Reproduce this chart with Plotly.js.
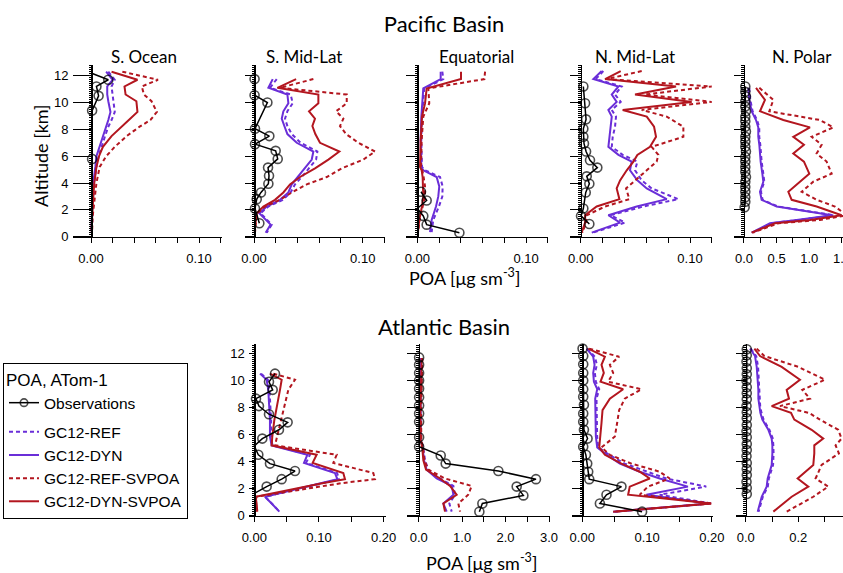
<!DOCTYPE html>
<html><head><meta charset="utf-8">
<script src="https://cdn.plot.ly/plotly-3.0.1.min.js"></script>
<style>html,body{margin:0;padding:0;background:#fff}#chart{width:843px;height:573px}</style>
</head><body><div id="chart"></div>
<script>
// ---------------- DATA (POA, ATom-1) ----------------
// Pacific - S. Ocean
const pSO_alt   = [12.3, 11.7, 11.2, 10.6, 10.1, 9.3, 8.7, 8.2, 7.5, 6.7, 6.0, 5.2, 4.0, 2.7, 1.5, 0.4];
const pSO_dyn   = [0.014, 0.020, 0.015, 0.015, 0.016, 0.018, 0.016, 0.014, 0.011, 0.008, 0.005, 0.004, 0.002, 0.0012, 0.0006, 0.0003];
const pSO_ref   = [0.016, 0.022, 0.019, 0.020, 0.021, 0.022, 0.019, 0.016, 0.013, 0.010, 0.007, 0.005, 0.003, 0.0019, 0.001, 0.0006];
const pSO_dynsv = [0.019, 0.043, 0.031, 0.032, 0.042, 0.043, 0.035, 0.028, 0.019, 0.011, 0.0074, 0.005, 0.003, 0.0019, 0.001, 0.0003];
const pSO_refsv = [0.029, 0.062, 0.047, 0.049, 0.056, 0.061, 0.055, 0.045, 0.033, 0.022, 0.014, 0.008, 0.005, 0.003, 0.0015, 0.001];
const pSO_obsAlt = [12.2, 11.7, 11.2, 10.5, 9.4, 5.8];
const pSO_obs    = [0.0, 0.016, 0.005, 0.007, 0.001, 0.001];

// Pacific - S. Mid-Lat
const pSM_alt   = [11.75, 11.1, 10.6, 9.95, 9.35, 8.8, 8.25, 7.65, 7.0, 6.35, 5.75, 5.1, 4.45, 3.9, 3.3, 2.75, 2.25, 1.75, 0.9, 0.3];
const pSM_dyn   = [0.0172, 0.0132, 0.0307, 0.0316, 0.027, 0.0255, 0.0279, 0.0307, 0.0393, 0.0546, 0.0531, 0.0469, 0.0408, 0.0347, 0.0316, 0.0239, 0.0117, 0.0049, 0.0153, 0.0107];
const pSM_ref   = [0.0209, 0.0147, 0.0337, 0.0356, 0.0307, 0.0285, 0.0307, 0.0347, 0.0429, 0.0583, 0.0571, 0.0509, 0.0439, 0.0377, 0.0337, 0.0264, 0.0132, 0.0061, 0.0163, 0.0117];
const pSM_dynsv = [0.0387, 0.0215, 0.0592, 0.0592, 0.0506, 0.0561, 0.0537, 0.0564, 0.0607, 0.0785, 0.0684, 0.0561, 0.0423, 0.0331, 0.027, 0.0193, 0.0086, 0.0025, 0.0012, 0.0006];
const pSM_refsv = [0.0546, 0.0239, 0.0853, 0.0853, 0.0755, 0.0822, 0.0791, 0.0847, 0.096, 0.1113, 0.1006, 0.0807, 0.0669, 0.0485, 0.0347, 0.0239, 0.0101, 0.0031, 0.0015, 0.0009];
const pSM_obsAlt = [11.75, 10.55, 10.0, 8.05, 7.5, 6.9, 6.4, 5.8, 5.15, 4.55, 3.95, 3.3, 2.8, 2.1, 1.0];
const pSM_obs    = [0.0005, 0.0005, 0.0123, 0.0009, 0.0141, 0.0009, 0.0199, 0.0218, 0.0129, 0.0138, 0.0132, 0.0064, 0.0025, 0.0009, 0.0049];

// Pacific - Equatorial
const pEQ_alt   = [12.3, 11.75, 11.05, 9.95, 8.95, 7.2, 5.2, 4.95, 4.45, 3.75, 3.0, 2.25, 1.25, 0.35];
const pEQ_dyn   = [0.0215, 0.0215, 0.0055, 0.0046, 0.0037, 0.0031, 0.0037, 0.0055, 0.0178, 0.0202, 0.0193, 0.0172, 0.0132, 0.0117];
const pEQ_ref   = [0.023, 0.0239, 0.0064, 0.0055, 0.0043, 0.0037, 0.0043, 0.0071, 0.0209, 0.0233, 0.023, 0.0199, 0.0147, 0.0132];
const pEQ_dynsv = [0.0402, 0.0402, 0.0086, 0.0071, 0.0043, 0.0031, 0.0025, 0.004, 0.0049, 0.0055, 0.0055, 0.0043, 0.0018, 0.0006];
const pEQ_refsv = [0.0623, 0.0617, 0.0101, 0.011, 0.0055, 0.004, 0.0034, 0.0046, 0.0058, 0.0071, 0.0071, 0.0049, 0.0021, 0.0009];
const pEQ_obsAlt = [3.35, 2.7, 2.1, 1.55, 0.9, 0.3];
const pEQ_obs    = [0.0034, 0.0086, 0.0, 0.0055, 0.0086, 0.0387];

// Pacific - N. Mid-Lat
const pNM_alt   = [12.35, 11.75, 11.2, 10.6, 10.05, 9.45, 8.95, 8.2, 7.45, 6.7, 6.1, 5.6, 4.95, 4.2, 3.6, 2.8, 2.25, 1.6, 1.05, 0.3];
const pNM_dyn   = [0.0192, 0.0116, 0.0345, 0.0284, 0.0329, 0.0253, 0.0284, 0.0274, 0.0262, 0.0253, 0.0345, 0.0466, 0.0451, 0.0518, 0.0604, 0.0787, 0.0512, 0.0253, 0.036, 0.0101];
const pNM_ref   = [0.0207, 0.0137, 0.0375, 0.0314, 0.0366, 0.0284, 0.0323, 0.0314, 0.0293, 0.0284, 0.0384, 0.0518, 0.0497, 0.0558, 0.0649, 0.0893, 0.0573, 0.0274, 0.0405, 0.011];
const pNM_dynsv = [0.0366, 0.0223, 0.0872, 0.0497, 0.1015, 0.0384, 0.0604, 0.0671, 0.0689, 0.0634, 0.0518, 0.0482, 0.0421, 0.036, 0.0329, 0.0354, 0.0146, 0.004, 0.004, 0.0009];
const pNM_refsv = [0.0558, 0.0238, 0.1198, 0.0588, 0.1198, 0.0558, 0.0787, 0.0939, 0.0939, 0.0649, 0.071, 0.0695, 0.0604, 0.0497, 0.0415, 0.0445, 0.0223, 0.0055, 0.0049, 0.0015];
const pNM_obsAlt = [11.2, 9.95, 8.75, 8.05, 7.45, 6.95, 6.35, 5.7, 5.15, 4.5, 3.95, 3.3, 2.1, 1.55, 0.95];
const pNM_obs    = [0.0024, 0.004, 0.0049, 0.0024, 0.0024, 0.003, 0.0049, 0.0085, 0.0152, 0.0055, 0.0079, 0.0046, 0.0024, 0.0003, 0.0079];

// Pacific - N. Polar
const pNP_alt   = [11.1, 10.2, 9.35, 8.7, 8.15, 7.45, 6.85, 6.2, 5.6, 4.7, 4.1, 3.35, 2.75, 2.25, 1.6, 1.25, 1.0, 0.3];
const pNP_dyn   = [0.066, 0.082, 0.117, 0.184, 0.219, 0.219, 0.235, 0.245, 0.255, 0.281, 0.296, 0.245, 0.27, 0.5, 1.35, 0.806, 0.398, 0.117];
const pNP_ref   = [0.08, 0.097, 0.132, 0.2, 0.234, 0.234, 0.25, 0.26, 0.27, 0.296, 0.311, 0.26, 0.285, 0.52, 1.38, 0.83, 0.42, 0.13];
const pNP_dynsv = [0.184, 0.321, 0.245, 0.602, 1.01, 0.755, 0.918, 0.755, 0.918, 1.0, 0.857, 0.679, 0.73, 1.112, 1.495, 1.01, 0.474, 0.117];
const pNP_refsv = [0.235, 0.449, 0.388, 1.163, 1.367, 1.036, 1.189, 1.112, 1.265, 1.342, 1.061, 0.883, 1.112, 1.393, 1.571, 1.163, 0.526, 0.133];
const pNP_obsAlt = [11.2, 10.8, 10.45, 10.1, 9.7, 9.35, 8.95, 8.6, 8.2, 7.85, 7.45, 7.1, 6.7, 6.35, 5.95, 5.6, 5.2, 4.85, 4.45, 4.1, 3.7, 3.35, 2.95, 2.6, 2.2];
const pNP_obs    = [0.02, 0.02, 0.03, 0.02, 0.02, 0.03, 0.02, 0.02, 0.02, 0.03, 0.02, 0.02, 0.02, 0.03, 0.02, 0.02, 0.02, 0.02, 0.03, 0.02, 0.02, 0.02, 0.02, 0.02, 0.01];

// Atlantic - S. Mid-Lat
const aSM_alt   = [10.5, 10.05, 9.3, 8.3, 7.05, 5.85, 5.2, 4.5, 3.9, 3.15, 2.7, 2.4, 1.4, 0.9, 0.3];
const aSM_dyn   = [0.0088, 0.0191, 0.0216, 0.0232, 0.0242, 0.0242, 0.0268, 0.082, 0.0768, 0.1247, 0.1284, 0.1026, 0.0165, 0.0268, 0.0387];
const aSM_ref   = [0.0105, 0.021, 0.0235, 0.025, 0.026, 0.026, 0.028, 0.086, 0.080, 0.128, 0.131, 0.105, 0.017, 0.027, 0.039];
const aSM_dynsv = [0.0242, 0.0423, 0.0397, 0.0356, 0.0309, 0.0278, 0.0268, 0.0964, 0.0902, 0.1376, 0.1402, 0.105, 0.002, 0.0036, 0.0046];
const aSM_refsv = [0.0294, 0.0629, 0.0526, 0.0474, 0.0407, 0.0356, 0.032, 0.1273, 0.1222, 0.184, 0.1866, 0.134, 0.003, 0.0026, 0.0036];
const aSM_obsAlt = [10.5, 9.9, 9.3, 8.65, 8.1, 7.5, 6.9, 6.35, 5.7, 5.15, 4.5, 3.85, 3.3, 2.7, 2.15, 1.65];
const aSM_obs    = [0.032, 0.0227, 0.0284, 0.0026, 0.0072, 0.0227, 0.0515, 0.0381, 0.0124, 0.0, 0.0062, 0.0242, 0.0629, 0.0423, 0.0191, 0.0];

// Atlantic - Equatorial
const aEQ_alt   = [11.65, 10.05, 7.55, 5.6, 5.0, 4.1, 3.4, 2.75, 2.2, 1.55, 0.9, 0.3];
const aEQ_dyn   = [0.046, 0.046, 0.031, 0.046, 0.092, 0.123, 0.184, 0.414, 0.76, 0.80, 0.568, 0.645];
const aEQ_ref   = [0.054, 0.054, 0.038, 0.054, 0.107, 0.146, 0.223, 0.491, 0.798, 0.837, 0.706, 0.76];
const aEQ_dynsv = [0.069, 0.054, 0.038, 0.046, 0.084, 0.107, 0.169, 0.491, 0.721, 0.875, 0.568, 0.606];
const aEQ_refsv = [0.084, 0.069, 0.054, 0.061, 0.10, 0.13, 0.223, 0.606, 1.22, 1.14, 0.913, 0.952];
const aEQ_obsAlt = [11.7, 11.15, 10.55, 10.0, 9.4, 8.75, 8.15, 7.55, 6.95, 5.8, 5.1, 4.45, 3.85, 3.3, 2.7, 2.15, 1.5, 0.9, 0.3];
const aEQ_obs    = [0.01, 0.01, 0.01, 0.01, 0.01, 0.01, 0.01, 0.01, 0.01, 0.01, 0.01, 0.507, 0.622, 1.834, 2.70, 2.256, 2.41, 1.466, 1.397];

// Atlantic - N. Mid-Lat
const aNM_alt   = [12.35, 11.75, 11.15, 10.55, 9.9, 9.35, 8.65, 7.8, 6.85, 5.85, 5.05, 4.5, 3.85, 3.25, 2.75, 2.15, 1.55, 0.9, 0.3];
const aNM_dyn   = [0.0067, 0.0169, 0.019, 0.0169, 0.018, 0.0231, 0.02, 0.0205, 0.0205, 0.021, 0.0231, 0.0374, 0.058, 0.0887, 0.1195, 0.163, 0.099, 0.1964, 0.0477];
const aNM_ref   = [0.0077, 0.0195, 0.0226, 0.0195, 0.021, 0.0262, 0.022, 0.022, 0.022, 0.023, 0.0246, 0.0415, 0.0656, 0.099, 0.1297, 0.1913, 0.1195, 0.199, 0.0503];
const aNM_dynsv = [0.0092, 0.0349, 0.0297, 0.0333, 0.0282, 0.0631, 0.0426, 0.0313, 0.0297, 0.0282, 0.0262, 0.0349, 0.0605, 0.0887, 0.1041, 0.0733, 0.0708, 0.199, 0.0477];
const aNM_refsv = [0.0108, 0.0569, 0.0426, 0.0477, 0.04, 0.0913, 0.0656, 0.0569, 0.0538, 0.0503, 0.0297, 0.0426, 0.0759, 0.1195, 0.1349, 0.1015, 0.0887, 0.2005, 0.0503];
const aNM_obsAlt = [12.35, 11.8, 11.2, 10.55, 10.0, 9.35, 8.8, 8.2, 7.55, 6.95, 6.35, 5.7, 5.1, 4.5, 3.85, 3.25, 2.7, 2.15, 1.55, 0.9, 0.3];
const aNM_obs    = [0.0005, 0.0015, 0.0015, 0.0015, 0.0015, 0.0015, 0.0015, 0.0026, 0.0015, 0.0015, 0.0026, 0.0082, 0.0015, 0.0056, 0.0077, 0.0092, 0.0108, 0.0605, 0.0374, 0.0272, 0.0923];

// Atlantic - N. Polar
const aNP_alt   = [12.35, 11.8, 11.0, 10.05, 9.3, 8.65, 8.1, 7.6, 7.1, 6.35, 5.7, 5.2, 4.6, 3.75, 2.75, 2.15, 1.4, 0.3];
const aNP_dyn   = [0.0165, 0.0354, 0.0418, 0.0456, 0.0481, 0.0481, 0.0506, 0.0557, 0.0633, 0.0861, 0.0987, 0.1013, 0.1013, 0.0987, 0.0835, 0.0797, 0.0608, 0.0456];
const aNP_ref   = [0.019, 0.040, 0.047, 0.050, 0.052, 0.052, 0.055, 0.060, 0.068, 0.090, 0.103, 0.105, 0.106, 0.104, 0.088, 0.084, 0.065, 0.049];
const aNP_dynsv = [0.0329, 0.0544, 0.1367, 0.2063, 0.1557, 0.1646, 0.0987, 0.1722, 0.1848, 0.2506, 0.2949, 0.2608, 0.2608, 0.257, 0.1975, 0.238, 0.1747, 0.1051];
const aNP_refsv = [0.0418, 0.0709, 0.2, 0.3013, 0.2152, 0.2443, 0.1304, 0.2405, 0.2823, 0.3519, 0.3646, 0.3418, 0.3544, 0.2886, 0.2658, 0.3139, 0.257, 0.1557];
const aNP_obsAlt = [12.3, 11.85, 11.4, 10.9, 10.45, 10.0, 9.5, 9.05, 8.6, 8.1, 7.65, 7.2, 6.7, 6.25, 5.8, 5.3, 4.85, 4.4, 3.9, 3.45, 3.0, 2.5, 2.05, 1.6];
const aNP_obs    = [0.004, 0.004, 0.003, 0.004, 0.004, 0.003, 0.004, 0.004, 0.004, 0.003, 0.004, 0.004, 0.004, 0.003, 0.004, 0.004, 0.004, 0.003, 0.004, 0.004, 0.004, 0.003, 0.004, 0.004];

const panelTitles = ['S. Ocean', 'S. Mid-Lat', 'Equatorial', 'N. Mid-Lat', 'N. Polar'];
const seriesNames = ['Observations', 'GC12-REF', 'GC12-DYN', 'GC12-REF-SVPOA', 'GC12-DYN-SVPOA'];
const xTickFormats = ['.2f', '.2f', '.2f', '.2f', '.1f', '.2f', '.1f', '.2f', '.1f'];

// ---------------- LAYOUT / STYLE ----------------
const W = 843, H = 573;
const RED = '#b3161f', PURPLE = '#6a2ed8';
const TF = 'Lato, "Open Sans", sans-serif';
const AF = '"Liberation Sans", Arial, sans-serif';
const DASH = '4px,3px';

const panels = [
  {d:[pSO_alt,pSO_ref,pSO_dyn,pSO_refsv,pSO_dynsv,pSO_obsAlt,pSO_obs], px:[73,222],  r:[-0.0167,0.1213], dt:0.1, mn:0.02, row:0, lab:true},
  {d:[pSM_alt,pSM_ref,pSM_dyn,pSM_refsv,pSM_dynsv,pSM_obsAlt,pSM_obs], px:[245,385], r:[-0.0083,0.1205], dt:0.1, mn:0.02, row:0},
  {d:[pEQ_alt,pEQ_ref,pEQ_dyn,pEQ_refsv,pEQ_dynsv,pEQ_obsAlt,pEQ_obs], px:[406,548], r:[-0.0104,0.1202], dt:0.1, mn:0.02, row:0, leg:true},
  {d:[pNM_alt,pNM_ref,pNM_dyn,pNM_refsv,pNM_dynsv,pNM_obsAlt,pNM_obs], px:[570,712], r:[-0.0098,0.1201], dt:0.1, mn:0.02, row:0},
  {d:[pNP_alt,pNP_ref,pNP_dyn,pNP_refsv,pNP_dynsv,pNP_obsAlt,pNP_obs], px:[734,843], r:[-0.153,1.516],   dt:0.5, mn:0.25, row:0},
  {d:[aSM_alt,aSM_ref,aSM_dyn,aSM_refsv,aSM_dynsv,aSM_obsAlt,aSM_obs], px:[249,386], r:[-0.0082,0.2036], dt:0.1, mn:0.05, row:1, lab:true},
  {d:[aEQ_alt,aEQ_ref,aEQ_dyn,aEQ_refsv,aEQ_dynsv,aEQ_obsAlt,aEQ_obs], px:[407,550], r:[-0.269,3.023],   dt:1.0, mn:0.5,  row:1},
  {d:[aNM_alt,aNM_ref,aNM_dyn,aNM_refsv,aNM_dynsv,aNM_obsAlt,aNM_obs], px:[572,713], r:[-0.0158,0.2017], dt:0.1, mn:0.05, row:1},
  {d:[aNP_alt,aNP_ref,aNP_dyn,aNP_refsv,aNP_dynsv,aNP_obsAlt,aNP_obs], px:[736,843], r:[-0.037,0.37],    dt:0.2, mn:0.1,  row:1}
];
const rows = [{top:65, bot:236.7, yr:[0,12.8]}, {top:344, bot:515.7, yr:[0,12.69]}];

const data = [];
const layout = {
  width: W, height: H,
  margin: {l:0, r:0, t:0, b:0},
  paper_bgcolor: '#fff', plot_bgcolor: 'rgba(0,0,0,0)',
  font: {family: AF, color: '#000', size: 13},
  showlegend: true,
  title: {text: 'Pacific Basin', x: 444/W, y: 1 - 24/H, xref: 'paper', yref: 'paper', xanchor: 'center', yanchor: 'middle', font: {family: TF, size: 22, color: '#000'}},
  legend: {x: 3/W, y: 1 - 363/H, xanchor: 'left', yanchor: 'top', bgcolor: '#fff', bordercolor: '#000', borderwidth: 1,
           font: {family: AF, size: 15.5, color: '#000'}, traceorder: 'grouped', tracegroupgap: 6,
           title: {text: 'POA, ATom-1', font: {family: AF, size: 17, color: '#000'}}, itemwidth: 30},
  annotations: []
};

panels.forEach((p, i) => {
  const n = i + 1, s = n === 1 ? '' : String(n);
  const row = rows[p.row];
  const [alt, ref, dyn, refsv, dynsv, obsAlt, obs] = p.d;
  const x0px = p.px[0] + (0 - p.r[0]) / (p.r[1] - p.r[0]) * (p.px[1] - p.px[0]);
  const showLeg = !!p.leg;
  const common = {xaxis: 'x' + s, yaxis: 'y' + s, hoverinfo: 'skip'};
  const model = (x, k, color, dash) => Object.assign({type: 'scatter', mode: 'lines', x: x, y: alt, name: seriesNames[k],
      line: {color: color, width: 2, dash: dash}, showlegend: showLeg, legendgroup: 'mod', legendrank: k + 1}, common);
  data.push(model(ref, 1, PURPLE, DASH));
  data.push(model(dyn, 2, PURPLE, 'solid'));
  data.push(model(refsv, 3, RED, DASH));
  data.push(model(dynsv, 4, RED, 'solid'));
  data.push(Object.assign({type: 'scatter', mode: 'lines+markers', x: obs, y: obsAlt, name: seriesNames[0],
      line: {color: '#000', width: 1.5}, cliponaxis: false,
      marker: {symbol: 'circle-open', size: obs.map(v => v > 0 ? 9 : 0), color: '#000', line: {width: 1.6, color: '#000'}},
      showlegend: showLeg, legendgroup: 'obs', legendrank: 0}, common));

  layout['xaxis' + s] = {
    domain: [p.px[0] / W, p.px[1] / W], range: p.r, anchor: 'y' + s,
    showline: true, linecolor: '#000', linewidth: 1, zeroline: false, showgrid: false,
    ticks: 'outside', ticklen: 5, tickwidth: 1, tickcolor: '#000', tick0: 0, dtick: p.dt,
    tickformat: xTickFormats[i], ticklabelstandoff: 5, ticklabeloverflow: 'allow',
    minor: {dtick: p.mn, tick0: 0, ticks: 'outside', ticklen: 5, tickwidth: 1, tickcolor: '#000', showgrid: false},
    tickfont: {family: AF, size: 13, color: '#000'}, fixedrange: true
  };
  const yDom = [1 - row.bot / H, 1 - row.top / H];
  layout['yaxis' + s] = {
    domain: yDom, range: row.yr, anchor: 'free', position: x0px / W,
    showline: true, linecolor: '#000', linewidth: 1.5, zeroline: false, showgrid: false,
    ticks: 'outside', ticklen: Math.round(x0px - p.px[0]), tickwidth: 1, tickcolor: '#000', tick0: 0, dtick: 2,
    showticklabels: !!p.lab, tickfont: {family: AF, size: 13, color: '#000'}, ticklabelstandoff: 2,
    minor: {dtick: 0.15, tick0: 0, ticks: 'outside', ticklen: 2.5, tickwidth: 1, tickcolor: '#000', showgrid: false},
    fixedrange: true
  };
  // mirrored hatch on right side of the axis line
  const h = String(n + 9);
  layout['yaxis' + h] = {
    domain: yDom, range: row.yr, anchor: 'free', position: x0px / W, overlaying: 'y' + s, side: 'right',
    showline: false, zeroline: false, showgrid: false, showticklabels: false, ticks: '',
    minor: {dtick: 0.15, tick0: 0, ticks: 'outside', ticklen: 2.5, tickwidth: 1, tickcolor: '#000', showgrid: false},
    fixedrange: true
  };
  if (p.row === 0) {
    const titleX = [144, 304, 477, 635, 802][i];
    layout.annotations.push({text: panelTitles[i], x: titleX / W, y: 1 - 57 / H, xref: 'paper', yref: 'paper',
      xanchor: 'center', yanchor: 'middle', showarrow: false, font: {family: TF, size: 17, color: '#000'}});
  }
});

layout.annotations.push(
  {text: 'Atlantic Basin', x: 444 / W, y: 1 - 326 / H, xref: 'paper', yref: 'paper', xanchor: 'center', yanchor: 'middle', showarrow: false, font: {family: TF, size: 22, color: '#000'}},
  {text: 'POA [μg sm<sup>-3</sup>]', x: 464 / W, y: 1 - 277 / H, xref: 'paper', yref: 'paper', xanchor: 'center', yanchor: 'middle', showarrow: false, font: {family: TF, size: 18, color: '#000'}},
  {text: 'POA [μg sm<sup>-3</sup>]', x: 481 / W, y: 1 - 562 / H, xref: 'paper', yref: 'paper', xanchor: 'center', yanchor: 'middle', showarrow: false, font: {family: TF, size: 18, color: '#000'}},
  {text: 'Altitude [km]', x: 41 / W, y: 1 - 156 / H, xref: 'paper', yref: 'paper', xanchor: 'center', yanchor: 'middle', textangle: -90, showarrow: false, font: {family: TF, size: 18, color: '#000'}}
);

Plotly.newPlot('chart', data, layout, {displayModeBar: false, staticPlot: true});
</script></body></html>
